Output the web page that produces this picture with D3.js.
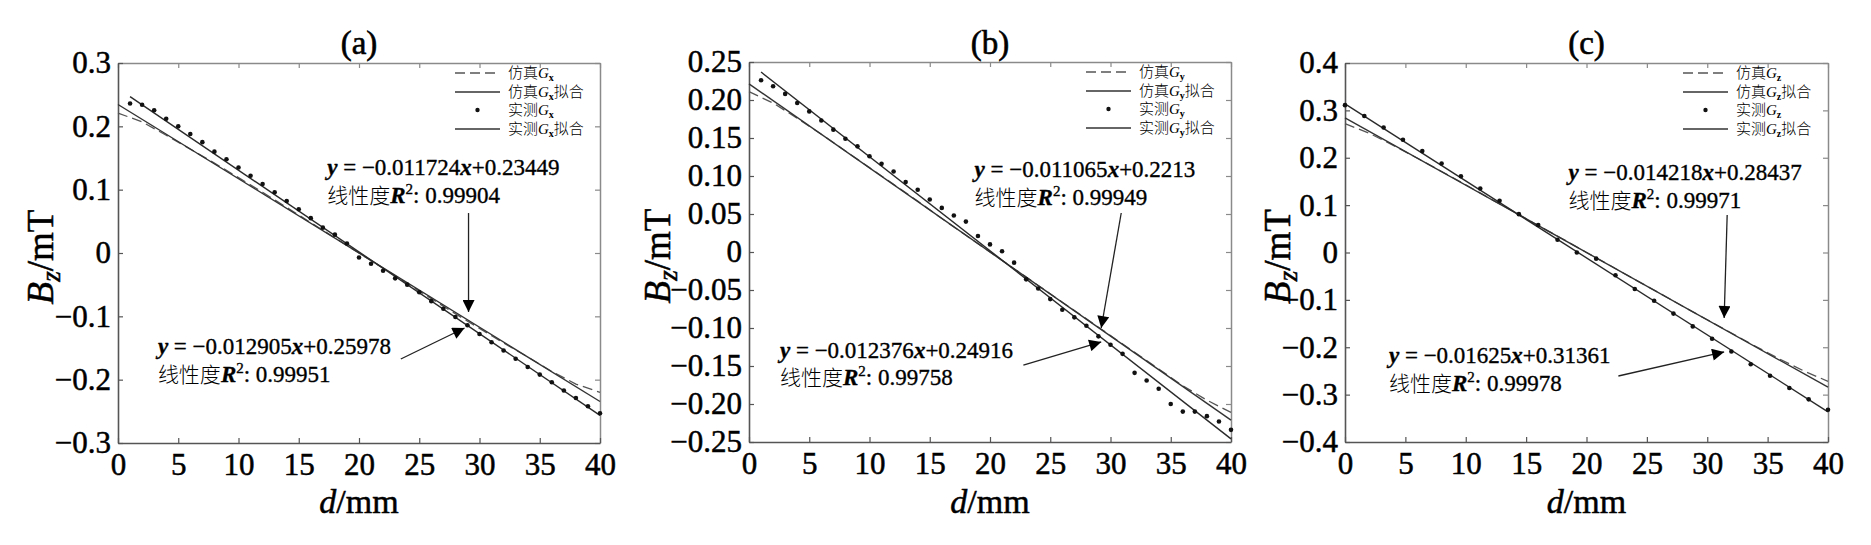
<!DOCTYPE html>
<html><head><meta charset="utf-8">
<script src="https://cdn.jsdelivr.net/npm/d3@7"></script>
<style>body{margin:0;background:#fff} svg{display:block}</style>
</head><body><svg id="chart" width="1871" height="545"></svg>
<script>
// ---------- DATA ----------
const xTicks = [0, 5, 10, 15, 20, 25, 30, 35, 40];
const yTicksA = [-0.3, -0.2, -0.1, 0, 0.1, 0.2, 0.3];
const yTicksB = [-0.25, -0.2, -0.15, -0.1, -0.05, 0, 0.05, 0.1, 0.15, 0.2, 0.25];
const yTicksC = [-0.4, -0.3, -0.2, -0.1, 0, 0.1, 0.2, 0.3, 0.4];

// simulated curves (dashed), sampled every 2 mm
const simX = [0, 2, 4, 6, 8, 10, 12, 14, 16, 18, 20, 22, 24, 26, 28, 30, 32, 34, 36, 38, 40];
const simA = [0.221, 0.207, 0.186, 0.164, 0.142, 0.119, 0.096, 0.072, 0.048, 0.024, 0.000, -0.024, -0.048, -0.072, -0.096, -0.119, -0.142, -0.164, -0.187, -0.207, -0.220];
const simB = [0.211, 0.196, 0.176, 0.155, 0.133, 0.111, 0.089, 0.067, 0.044, 0.022, 0.000, -0.022, -0.044, -0.066, -0.088, -0.110, -0.132, -0.154, -0.176, -0.195, -0.211];
const simC = [0.272, 0.252, 0.226, 0.199, 0.171, 0.143, 0.114, 0.086, 0.057, 0.029, 0.000, -0.028, -0.057, -0.085, -0.114, -0.142, -0.170, -0.198, -0.225, -0.250, -0.272];

// measured points
const measXAB = [1, 2, 3, 4, 5, 6, 7, 8, 9, 10, 11, 12, 13, 14, 15, 16, 17, 18, 19, 20, 21, 22, 23, 24, 25, 26, 27, 28, 29, 30, 31, 32, 33, 34, 35, 36, 37, 38, 39, 40];
const measA = [0.236, 0.234, 0.2255, 0.212, 0.200, 0.188, 0.175, 0.160, 0.148, 0.135, 0.122, 0.109, 0.096, 0.082, 0.069, 0.055, 0.040, 0.029, 0.015, -0.007, -0.017, -0.028, -0.040, -0.050, -0.062, -0.076, -0.088, -0.101, -0.114, -0.128, -0.141, -0.154, -0.167, -0.180, -0.192, -0.204, -0.217, -0.229, -0.242, -0.253];
const measB = [0.226, 0.218, 0.208, 0.196, 0.185, 0.173, 0.161, 0.149, 0.139, 0.126, 0.116, 0.106, 0.092, 0.082, 0.069, 0.058, 0.048, 0.040, 0.021, 0.010, 0.001, -0.014, -0.036, -0.048, -0.062, -0.076, -0.086, -0.097, -0.111, -0.122, -0.134, -0.159, -0.169, -0.180, -0.200, -0.210, -0.210, -0.216, -0.223, -0.234];
const measXC = [0, 1.6, 3.2, 4.8, 6.4, 8.0, 9.6, 11.2, 12.8, 14.4, 16.0, 17.6, 19.2, 20.8, 22.4, 24.0, 25.6, 27.2, 28.8, 30.4, 32.0, 33.6, 35.2, 36.8, 38.4, 40.0];
const measC = [0.311, 0.288, 0.264, 0.238, 0.214, 0.188, 0.161, 0.135, 0.109, 0.081, 0.058, 0.027, 0.000, -0.013, -0.048, -0.077, -0.102, -0.129, -0.156, -0.182, -0.209, -0.236, -0.260, -0.286, -0.310, -0.332];

// linear fits [slope, intercept] and R^2 (from the annotations)
const fitSimA = [-0.011724, 0.23449], r2SimA = "0.99904";
const fitMeasA = [-0.012905, 0.25978], r2MeasA = "0.99951";
const fitSimB = [-0.011065, 0.2213], r2SimB = "0.99949";
const fitMeasB = [-0.012376, 0.24916], r2MeasB = "0.99758";
const fitSimC = [-0.014218, 0.28437], r2SimC = "0.99971";
const fitMeasC = [-0.01625, 0.31361], r2MeasC = "0.99978";

const titles = ["(a)", "(b)", "(c)"];
const comps = ["x", "y", "z"];

// ---------- LAYOUT ----------
const panels = [
  { title: titles[0], comp: comps[0], l: 118, r: 600, t: 63, b: 443, yDomain: [-0.3, 0.3], yTicks: yTicksA, dec: 1,
    sim: simA, measX: measXAB, meas: measA, fitSim: fitSimA, fitMeas: fitMeasA, measRange: [1, 40], r2Sim: r2SimA, r2Meas: r2MeasA,
    yTitleX: 40,
    annUp: { x: 17.36, y1: 0.1232, y2: 0.0789, ax1: 29.09, ay1: 0.0631, ax2: 29.09, ay2: -0.0932 },
    annLo: { x: 3.31, y1: -0.1595, y2: -0.2037, ax1: 23.47, ay1: -0.1674, ax2: 28.76, ay2: -0.1184 } },
  { title: titles[1], comp: comps[1], l: 749, r: 1231, t: 62, b: 442, yDomain: [-0.25, 0.25], yTicks: yTicksB, dec: 2,
    sim: simB, measX: measXAB, meas: measB, fitSim: fitSimB, fitMeas: fitMeasB, measRange: [1, 40], r2Sim: r2SimB, r2Meas: r2MeasB,
    yTitleX: 657,
    annUp: { x: 18.72, y1: 0.0987, y2: 0.0618, ax1: 30.89, ay1: 0.0513, ax2: 29.23, ay2: -0.1000 },
    annLo: { x: 2.57, y1: -0.1395, y2: -0.175, ax1: 22.77, ay1: -0.1487, ax2: 29.23, ay2: -0.1184 } },
  { title: titles[2], comp: comps[2], l: 1345, r: 1828, t: 63, b: 442, yDomain: [-0.4, 0.4], yTicks: yTicksC, dec: 1,
    sim: simC, measX: measXC, meas: measC, fitSim: fitSimC, fitMeas: fitMeasC, measRange: [0, 40], r2Sim: r2SimC, r2Meas: r2MeasC,
    yTitleX: 1277,
    annUp: { x: 18.51, y1: 0.153, y2: 0.0939, ax1: 31.65, ay1: 0.0792, ax2: 31.40, ay2: -0.1383 },
    annLo: { x: 3.64, y1: -0.2332, y2: -0.2924, ax1: 22.64, ay1: -0.2607, ax2: 31.40, ay2: -0.2100 } }
];

const SERIF = "'Liberation Serif','Times New Roman','Noto Sans CJK SC',serif";
const CJKF = "'Noto Sans CJK SC',sans-serif";
const svg = d3.select("#chart");

svg.append("defs").append("marker")
  .attr("id", "ah").attr("viewBox", "0 0 10 10").attr("refX", 10).attr("refY", 5)
  .attr("markerWidth", 15).attr("markerHeight", 12).attr("markerUnits", "userSpaceOnUse")
  .attr("orient", "auto")
  .append("path").attr("d", "M0,0 L10,5 L0,10 Z").attr("fill", "#000");

function fmtFn(dec) {
  return d => d === 0 ? "0" : (d < 0 ? "\u2212" : "") + Math.abs(d).toFixed(dec);
}
function heavy(sel, w) {
  return sel.attr("fill", "#000").attr("stroke", "#000").attr("stroke-width", w).attr("paint-order", "stroke");
}

panels.forEach(p => {
  const x = d3.scaleLinear().domain([0, 40]).range([p.l, p.r]);
  const y = d3.scaleLinear().domain(p.yDomain).range([p.b, p.t]);
  const g = svg.append("g");

  // axes (ticks point inward on all four sides)
  const axB = d3.axisBottom(x).tickValues(xTicks).tickFormat(d3.format("d")).tickSizeInner(-5).tickSizeOuter(0).tickPadding(10);
  const axT = d3.axisTop(x).tickValues(xTicks).tickFormat("").tickSizeInner(-5).tickSizeOuter(0);
  const axL = d3.axisLeft(y).tickValues(p.yTicks).tickFormat(fmtFn(p.dec)).tickSizeInner(-5).tickSizeOuter(0).tickPadding(7);
  const axR = d3.axisRight(y).tickValues(p.yTicks).tickFormat("").tickSizeInner(-5).tickSizeOuter(0);

  const gT = g.append("g").attr("transform", `translate(0,${p.t})`).call(axT);
  const gR = g.append("g").attr("transform", `translate(${p.r},0)`).call(axR);
  const gB = g.append("g").attr("transform", `translate(0,${p.b})`).call(axB);
  const gL = g.append("g").attr("transform", `translate(${p.l},0)`).call(axL);
  [gT, gR].forEach(a => { a.select(".domain").attr("stroke", "#8a8a8a").attr("stroke-width", 1.5); a.selectAll(".tick line").attr("stroke", "#8a8a8a").attr("stroke-width", 1.2); });
  [gB, gL].forEach(a => { a.select(".domain").attr("stroke", "#555").attr("stroke-width", 1.6); a.selectAll(".tick line").attr("stroke", "#555").attr("stroke-width", 1.2); });
  [gB, gL].forEach(a => heavy(a.selectAll(".tick text"), 0.5).style("font-family", SERIF).style("font-size", "31px"));

  // title
  heavy(g.append("text"), 0.6).attr("x", (p.l + p.r) / 2).attr("y", 54).attr("text-anchor", "middle")
    .style("font-family", SERIF).style("font-size", "33px").text(p.title);

  // x axis title
  const xt = heavy(g.append("text"), 0.5).attr("x", (p.l + p.r) / 2).attr("y", 513).attr("text-anchor", "middle")
    .style("font-family", SERIF).style("font-size", "34px");
  xt.append("tspan").style("font-style", "italic").text("d");
  xt.append("tspan").text("/mm");

  // y axis title
  const yt = heavy(g.append("text"), 0.5).attr("transform", `translate(${p.yTitleX + 13},${(p.t + p.b) / 2 + 4}) rotate(-90)`)
    .attr("text-anchor", "middle").style("font-family", SERIF).style("font-size", "37px");
  yt.append("tspan").style("font-style", "italic").text("B");
  yt.append("tspan").style("font-style", "italic").style("font-size", "27px").attr("dy", 7).text("z");
  yt.append("tspan").attr("dy", -7).text("/mT");

  const line = d3.line().x(d => x(d[0])).y(d => y(d[1]));

  // simulated dashed curve
  g.append("path").datum(simX.map((v, i) => [v, p.sim[i]]))
    .attr("d", line).attr("fill", "none").attr("stroke", "#555").attr("stroke-width", 1.3).attr("stroke-dasharray", "10,5");
  // sim fit
  g.append("path").datum([0, 40].map(v => [v, p.fitSim[0] * v + p.fitSim[1]]))
    .attr("d", line).attr("fill", "none").attr("stroke", "#333").attr("stroke-width", 1.4);
  // measured fit
  g.append("path").datum(p.measRange.map(v => [v, p.fitMeas[0] * v + p.fitMeas[1]]))
    .attr("d", line).attr("fill", "none").attr("stroke", "#2a2a2a").attr("stroke-width", 1.4);
  // measured points
  g.selectAll("circle.m").data(p.measX.map((v, i) => [v, p.meas[i]])).join("circle")
    .attr("class", "m").attr("cx", d => x(d[0])).attr("cy", d => y(d[1])).attr("r", 2.3).attr("fill", "#111");

  // legend
  const lx0 = p.r - 145, lx1 = p.r - 100, ltx = p.r - 92;
  const rows = [p.t + 10, p.t + 29, p.t + 47, p.t + 66];
  const labels = [["仿真", ""], ["仿真", "拟合"], ["实测", ""], ["实测", "拟合"]];
  rows.forEach((ry, i) => {
    if (i === 0) g.append("line").attr("x1", lx0).attr("x2", lx1).attr("y1", ry).attr("y2", ry)
      .attr("stroke", "#555").attr("stroke-width", 1.3).attr("stroke-dasharray", "10,5");
    else if (i === 2) g.append("circle").attr("cx", (lx0 + lx1) / 2).attr("cy", ry).attr("r", 2.2).attr("fill", "#111");
    else g.append("line").attr("x1", lx0).attr("x2", lx1).attr("y1", ry).attr("y2", ry)
      .attr("stroke", "#333").attr("stroke-width", 1.4);
    const t = g.append("text").attr("x", ltx).attr("y", ry + 5).style("font-family", SERIF).style("font-size", "15px");
    t.append("tspan").style("font-family", CJKF).style("font-weight", 300).text(labels[i][0]);
    t.append("tspan").style("font-style", "italic").text("G");
    t.append("tspan").style("font-weight", "bold").style("font-size", "10px").attr("dy", 3).text(p.comp);
    if (labels[i][1]) t.append("tspan").attr("dy", -3).style("font-family", CJKF).style("font-weight", 300).text(labels[i][1]);
  });

  // annotations
  function ann(a, fit, r2) {
    const t1 = heavy(g.append("text"), 0.35).attr("x", x(a.x)).attr("y", y(a.y1)).style("font-family", SERIF).style("font-size", "23px");
    t1.append("tspan").style("font-weight", "bold").style("font-style", "italic").text("y");
    t1.append("tspan").text(" = \u2212" + String(Math.abs(fit[0])));
    t1.append("tspan").style("font-weight", "bold").style("font-style", "italic").text("x");
    t1.append("tspan").text("+" + String(fit[1]));
    const t2 = heavy(g.append("text"), 0.35).attr("x", x(a.x)).attr("y", y(a.y2)).style("font-family", SERIF).style("font-size", "23px");
    t2.append("tspan").style("font-family", CJKF).style("font-weight", 300).style("font-size", "21px").attr("stroke-width", 0).text("线性度");
    t2.append("tspan").style("font-weight", "bold").style("font-style", "italic").text("R");
    t2.append("tspan").style("font-size", "15px").attr("dy", -9).text("2");
    t2.append("tspan").attr("dy", 9).text(": " + r2);
    g.append("line").attr("x1", x(a.ax1)).attr("y1", y(a.ay1)).attr("x2", x(a.ax2)).attr("y2", y(a.ay2))
      .attr("stroke", "#222").attr("stroke-width", 1.3).attr("marker-end", "url(#ah)");
  }
  ann(p.annUp, p.fitSim, p.r2Sim);
  ann(p.annLo, p.fitMeas, p.r2Meas);
});
</script></body></html>
